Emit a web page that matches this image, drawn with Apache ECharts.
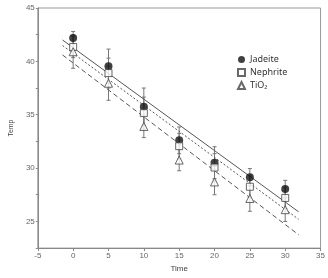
<!DOCTYPE html>
<html><head><meta charset="utf-8">
<script src="https://cdn.jsdelivr.net/npm/echarts@6/dist/echarts.min.js"></script>
<style>html,body{margin:0;padding:0;background:#fff}#c{width:328px;height:278px}</style>
</head><body><div id="c"></div>
<script>
const times = [0, 5, 10, 15, 20, 25, 30];
const jadeite = [42.2, 39.55, 35.75, 32.6, 30.5, 29.15, 28.05];
const jadeiteErr = [0.6, 1.6, 1.75, 1.25, 1.5, 0.8, 0.8];
const nephrite = [41.35, 38.9, 35.15, 32.05, 30.05, 28.25, 27.2];
const nephriteErr = [1.0, 1.4, 1.5, 1.2, 1.3, 1.0, 1.0];
const tio2 = [40.9, 37.95, 33.9, 30.75, 28.7, 27.15, 26.1];
const tio2Err = [1.55, 1.6, 1.05, 1.0, 1.2, 1.2, 1.1];
const fitX = [-1.5, 31.9];
const fitJadeite = [42.0, 25.9];
const fitNephrite = [41.48, 25.2];
const fitTiO2 = [40.6, 23.75];
const yTicks = [25, 30, 35, 40, 45];

function pts(xs, ys){ return xs.map((x,i)=>[x, ys[i]]); }
function errData(vals, errs){ return times.map((t,i)=>[t, vals[i]-errs[i], vals[i]+errs[i]]); }
function errSeries(vals, errs){
  return {
    type:'custom', silent:true, z:1,
    data: errData(vals, errs),
    renderItem: function(params, api){
      const x = api.value(0);
      const lo = api.coord([x, api.value(1)]);
      const hi = api.coord([x, api.value(2)]);
      const w = 2;
      const st = {stroke:'#777', lineWidth:1};
      return {type:'group', children:[
        {type:'line', shape:{x1:lo[0],y1:lo[1],x2:hi[0],y2:hi[1]}, style:st},
        {type:'line', shape:{x1:lo[0]-w,y1:lo[1],x2:lo[0]+w,y2:lo[1]}, style:st},
        {type:'line', shape:{x1:hi[0]-w,y1:hi[1],x2:hi[0]+w,y2:hi[1]}, style:st}
      ]};
    }
  };
}
function fitSeries(ys, type){
  return {type:'line', data:pts(fitX, ys), showSymbol:false, silent:true, z:2,
    lineStyle:{color:'#555', width:1, type:type}};
}

const chart = echarts.init(document.getElementById('c'));
chart.setOption({
  animation:false,
  grid:{left:26, right:2, top:8, bottom:18, show:true, borderColor:'#999', borderWidth:1},
  legend:{
    orient:'vertical', left:232, top:50, itemGap:4, itemWidth:7, itemHeight:7,
    textStyle:{fontSize:9, color:'#333', fontFamily:'Noto Sans'},
    data:['Jadeite','Nephrite','TiO₂']
  },
  xAxis:{
    type:'value', min:-5, max:35, interval:5,
    name:'Time', nameLocation:'middle', nameGap:14,
    nameTextStyle:{fontSize:8, color:'#444'},
    axisLine:{onZero:false, lineStyle:{color:'#888'}},
    axisTick:{show:true, length:3, lineStyle:{color:'#888'}},
    axisLabel:{fontSize:8, color:'#666', margin:4},
    splitLine:{show:false}
  },
  yAxis:{
    type:'value', min:22.5, max:45, interval:2.5,
    name:'Temp', nameLocation:'middle', nameGap:19,
    nameTextStyle:{fontSize:7, color:'#444'},
    axisLine:{show:true, onZero:false, lineStyle:{color:'#888'}},
    axisTick:{show:true, length:2, lineStyle:{color:'#888'}},
    axisLabel:{fontSize:8, color:'#666', margin:3,
      formatter:function(v){ return yTicks.indexOf(v) >= 0 ? String(v) : ''; }},
    splitLine:{show:false}
  },
  series:[
    errSeries(jadeite, jadeiteErr),
    errSeries(nephrite, nephriteErr),
    errSeries(tio2, tio2Err),
    fitSeries(fitJadeite, 'solid'),
    fitSeries(fitNephrite, [2,2]),
    fitSeries(fitTiO2, [5,3]),
    {name:'Jadeite', type:'scatter', z:5, symbol:'circle', symbolSize:8,
     itemStyle:{color:'#111'}, data:pts(times, jadeite)},
    {name:'Nephrite', type:'scatter', z:5, symbol:'rect', symbolSize:7,
     itemStyle:{color:'#fff', borderColor:'#444', borderWidth:1}, data:pts(times, nephrite)},
    {name:'TiO₂', type:'scatter', z:5, symbol:'triangle', symbolSize:8,
     itemStyle:{color:'#fff', borderColor:'#444', borderWidth:1}, data:pts(times, tio2)}
  ]
});
</script>
</body></html>
